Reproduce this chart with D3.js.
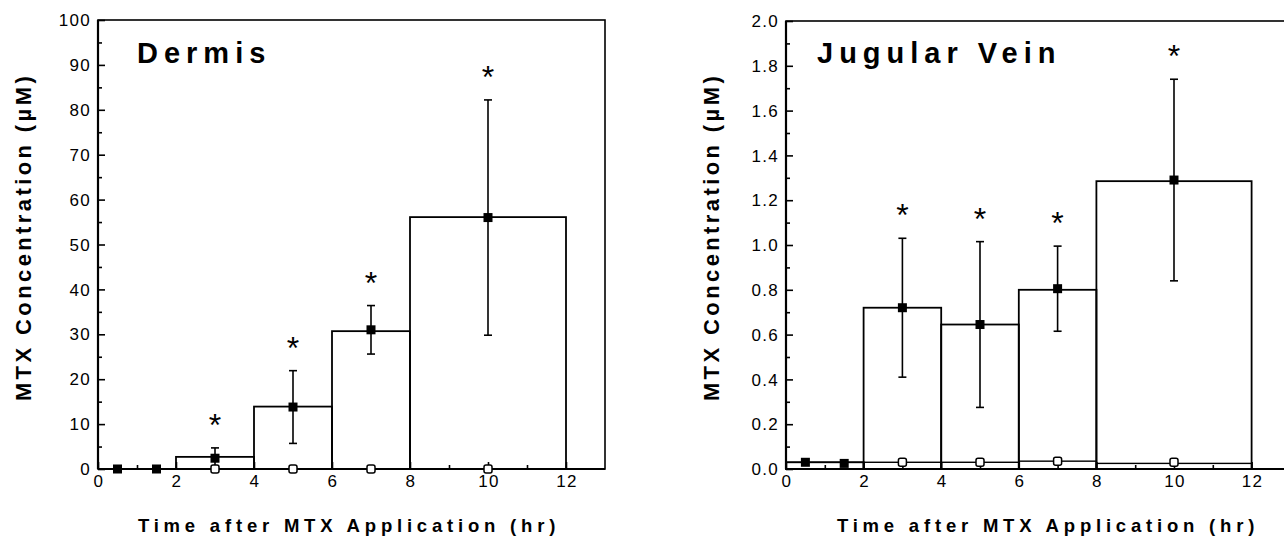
<!DOCTYPE html>
<html>
<head>
<meta charset="utf-8">
<script src="https://cdn.jsdelivr.net/npm/d3@7"></script>
<style>
  html, body { margin: 0; padding: 0; background: #fff; }
  svg { display: block; }
  text { font-family: "Liberation Sans", Arial, sans-serif; fill: #000; }
</style>
</head>
<body>
<svg width="1284" height="539"></svg>
<script>
"use strict";

// sampling times (hr) and step intervals
var times = [0.5, 1.5, 3, 5, 7, 10];
var controlTimes = [3, 5, 7, 10];
var binEdges = [0, 2, 4, 6, 8, 12];
var significant = [false, false, true, true, true, true];

// Dermis (uM)
var dermisMean = [0, 0, 2.4, 13.8, 31, 56];
var dermisErr = [0, 0, 2.3, 8.1, 5.4, 26.2];
var dermisControl = [0, 0, 0, 0];
var dermisBins = [0, 2.7, 13.9, 30.7, 56.1];
var dermisControlBins = [0, 0, 0, 0, 0];

// Jugular vein (uM)
var jugularMean = [0.03, 0.025, 0.72, 0.645, 0.805, 1.29];
var jugularErr = [0, 0, 0.31, 0.37, 0.19, 0.45];
var jugularControl = [0.03, 0.03, 0.035, 0.03];
var jugularBins = [0.03, 0.72, 0.645, 0.80, 1.285];
var jugularControlBins = [0.03, 0.03, 0.03, 0.035, 0.025];

var dermisTicks = d3.range(0, 101, 10);
var jugularTicks = d3.range(0, 2.01, 0.2);
var xTicks = d3.range(0, 13, 2);

var svg = d3.select("svg");

function drawPanel(o) {
  var x = d3.scaleLinear().domain([0, 13]).range([o.left, o.left + 13 * o.unit]);
  var y = d3.scaleLinear().domain(o.yDomain).range([469, o.top]);
  var g = svg.append("g");

  // frame
  g.append("rect")
      .attr("x", x(0)).attr("y", y(o.yDomain[1]))
      .attr("width", x(13) - x(0)).attr("height", y(0) - y(o.yDomain[1]))
      .attr("fill", "none").attr("stroke", "#000").attr("stroke-width", 1.6);
  g.append("line")
      .attr("x1", x(0)).attr("x2", x(0)).attr("y1", y(0)).attr("y2", y(o.yDomain[1]))
      .attr("stroke", "#000").attr("stroke-width", 2.2);
  g.append("line")
      .attr("x1", x(0)).attr("x2", x(13)).attr("y1", y(0)).attr("y2", y(0))
      .attr("stroke", "#000").attr("stroke-width", 2.2);

  // inward ticks
  var yAxis = d3.axisRight(y).tickValues(o.yTicks).tickSize(7).tickFormat("");
  var yMinor = d3.axisRight(y).tickValues(o.yTicks.slice(1).map((v, i) => (v + o.yTicks[i]) / 2)).tickSize(4).tickFormat("");
  [yAxis, yMinor].forEach(function(ax) {
    var a = g.append("g").attr("transform", `translate(${x(0)},0)`).call(ax);
    a.select(".domain").remove();
    a.selectAll("line").attr("stroke-width", 1.6);
  });
  var xAxis = d3.axisTop(x).tickValues(xTicks).tickSize(7).tickFormat("");
  var xMinor = d3.axisTop(x).tickValues([1, 3, 5, 7, 9, 11]).tickSize(4).tickFormat("");
  [xAxis, xMinor].forEach(function(ax) {
    var a = g.append("g").attr("transform", `translate(0,${y(0)})`).call(ax);
    a.select(".domain").remove();
    a.selectAll("line").attr("stroke-width", 1.6);
  });

  // tick labels
  g.selectAll(".ylab").data(o.yTicks).join("text")
      .attr("x", x(0) - 7).attr("y", d => y(d)).attr("dy", "0.36em")
      .attr("text-anchor", "end").attr("font-size", 17).attr("letter-spacing", "1.3px")
      .text(o.yFormat);
  g.selectAll(".xlab").data(xTicks).join("text")
      .attr("x", d => x(d) + 1).attr("y", 487)
      .attr("text-anchor", "middle").attr("font-size", 17).attr("letter-spacing", "1.3px")
      .text(d => d);

  // step bars
  function bars(vals, w) {
    g.selectAll(null).data(vals).join("rect")
        .attr("x", (d, i) => x(binEdges[i]))
        .attr("y", d => y(d))
        .attr("width", (d, i) => x(binEdges[i + 1]) - x(binEdges[i]))
        .attr("height", d => y(0) - y(d))
        .attr("fill", "none").attr("stroke", "#000").attr("stroke-width", w);
  }
  bars(o.controlBins, 1.4);
  bars(o.bins, 1.8);

  // error bars
  var idx = d3.range(times.length).filter(i => o.err[i] > 0);
  idx.forEach(function(i) {
    var cx = x(times[i]), hi = y(o.mean[i] + o.err[i]), lo = y(Math.max(0, o.mean[i] - o.err[i]));
    g.append("line").attr("x1", cx).attr("x2", cx).attr("y1", hi).attr("y2", lo)
        .attr("stroke", "#000").attr("stroke-width", 1.6);
    [hi, lo].forEach(function(yy) {
      g.append("line").attr("x1", cx - 4).attr("x2", cx + 4).attr("y1", yy).attr("y2", yy)
          .attr("stroke", "#000").attr("stroke-width", 1.6);
    });
  });

  // control markers (open)
  g.selectAll(null).data(controlTimes).join("rect")
      .attr("x", d => x(d) - 4).attr("y", (d, i) => y(o.control[i]) - 4)
      .attr("width", 8).attr("height", 8).attr("rx", 2)
      .attr("fill", "#fff").attr("stroke", "#000").attr("stroke-width", 1.5);

  // treatment markers (filled)
  g.selectAll(null).data(times).join("rect")
      .attr("x", d => x(d) - 4.5).attr("y", (d, i) => y(o.mean[i]) - 4.5)
      .attr("width", 9).attr("height", 9).attr("fill", "#000");

  // significance asterisks
  g.selectAll(null).data(idx.filter(i => significant[i])).join("text")
      .attr("x", i => x(times[i])).attr("y", i => y(o.mean[i] + o.err[i]) - 29 + 17)
      .attr("text-anchor", "middle").attr("font-size", 32).text("*");

  // panel title
  g.append("text").attr("x", o.titleX).attr("y", 63)
      .attr("font-size", 29).attr("font-weight", "bold").attr("letter-spacing", "6px")
      .text(o.title);

  // axis titles
  g.append("text")
      .attr("transform", `translate(${x(0) - 67},237) rotate(-90)`)
      .attr("text-anchor", "middle").attr("font-size", 22).attr("font-weight", "bold")
      .attr("letter-spacing", "3.4px")
      .text("MTX Concentration (\u00b5M)");
  g.append("text")
      .attr("x", o.xTitleX).attr("y", 532)
      .attr("text-anchor", "middle").attr("font-size", 18.5).attr("font-weight", "bold")
      .attr("letter-spacing", "4.8px")
      .text("Time after MTX Application (hr)");
}

drawPanel({
  left: 98, unit: 39, top: 20, yDomain: [0, 100], yTicks: dermisTicks, yFormat: d => d,
  mean: dermisMean, err: dermisErr, control: dermisControl,
  bins: dermisBins, controlBins: dermisControlBins,
  title: "Dermis", titleX: 137, xTitleX: 349
});

drawPanel({
  left: 786, unit: 38.8, top: 21, yDomain: [0, 2], yTicks: jugularTicks, yFormat: d3.format(".1f"),
  mean: jugularMean, err: jugularErr, control: jugularControl,
  bins: jugularBins, controlBins: jugularControlBins,
  title: "Jugular Vein", titleX: 817, xTitleX: 1048
});
</script>
</body>
</html>
